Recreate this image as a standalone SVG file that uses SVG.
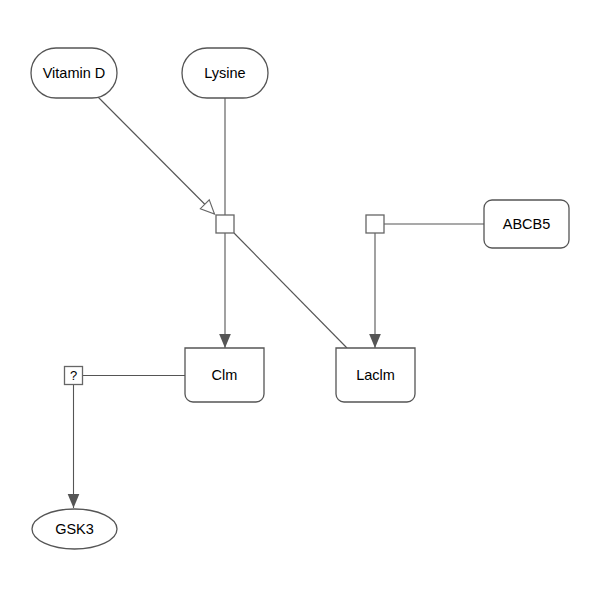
<svg xmlns="http://www.w3.org/2000/svg" width="600" height="600" viewBox="0 0 600 600">
<style>
.node{fill:#fff;stroke:#555;stroke-width:1.3}
.pn{fill:#fff;stroke:#666;stroke-width:1.3}
.edge{fill:none;stroke:#555;stroke-width:1.1}
.lbl{font-family:"Liberation Sans",Arial,Helvetica,sans-serif;font-size:14.5px;fill:#000;text-anchor:middle;dominant-baseline:central}
</style>
<defs>
<marker id="prod" markerUnits="userSpaceOnUse" markerWidth="14" markerHeight="14" viewBox="0 0 12 12" refX="12" refY="6" orient="auto">
<path d="M0,1 L12,6 L0,11 Z" fill="#555" stroke="none"/>
</marker>
<marker id="stim" markerUnits="userSpaceOnUse" markerWidth="16" markerHeight="16" viewBox="0 0 14 14" refX="13" refY="7" orient="auto">
<path d="M1,1.5 L13,7 L1,12.5 Z" fill="#fff" stroke="#666" stroke-width="1"/>
</marker>
</defs>
<rect width="600" height="600" fill="#fff"/>
<g id="connectors">
<line class="edge" x1="97" y1="96" x2="214.5" y2="214" marker-end="url(#stim)"/>
<line class="edge" x1="225" y1="98" x2="225" y2="215"/>
<line class="edge" x1="225" y1="233" x2="225" y2="348" marker-end="url(#prod)"/>
<line class="edge" x1="234" y1="233" x2="347" y2="348"/>
<line class="edge" x1="375" y1="233" x2="375" y2="348" marker-end="url(#prod)"/>
<line class="edge" x1="384" y1="224" x2="484" y2="224"/>
<line class="edge" x1="83" y1="375.5" x2="185" y2="375.5"/>
<line class="edge" x1="73.5" y1="385" x2="73.5" y2="508" marker-end="url(#prod)"/>
</g>
<g id="vitamin_d">
<rect class="node" x="31" y="48" width="86" height="50" rx="25" ry="25"/>
<text class="lbl" x="74" y="73">Vitamin D</text>
</g>
<g id="lysine">
<rect class="node" x="182" y="48" width="86" height="50" rx="25" ry="25"/>
<text class="lbl" x="225" y="73">Lysine</text>
</g>
<g id="process1">
<rect class="pn" x="216" y="215" width="18" height="18"/>
</g>
<g id="process2">
<rect class="pn" x="366" y="215" width="18" height="18"/>
</g>
<g id="abcb5">
<rect class="node" x="484" y="200" width="85" height="48" rx="8" ry="8"/>
<text class="lbl" x="526.5" y="224">ABCB5</text>
</g>
<g id="clm">
<path class="node" d="M185,348 H264 V394 A8,8 0 0 1 256,402 H193 A8,8 0 0 1 185,394 Z"/>
<text class="lbl" x="224.5" y="375">Clm</text>
</g>
<g id="laclm">
<path class="node" d="M336,348 H415 V394 A8,8 0 0 1 407,402 H344 A8,8 0 0 1 336,394 Z"/>
<text class="lbl" x="375.5" y="375">Laclm</text>
</g>
<g id="uncertain_process">
<rect class="pn" x="64.5" y="366.5" width="18" height="18"/>
<text class="lbl" x="73.5" y="375.5" style="font-size:13px">?</text>
</g>
<g id="gsk3">
<ellipse class="node" cx="74.5" cy="529" rx="42.5" ry="20"/>
<text class="lbl" x="74.5" y="529">GSK3</text>
</g>
</svg>
